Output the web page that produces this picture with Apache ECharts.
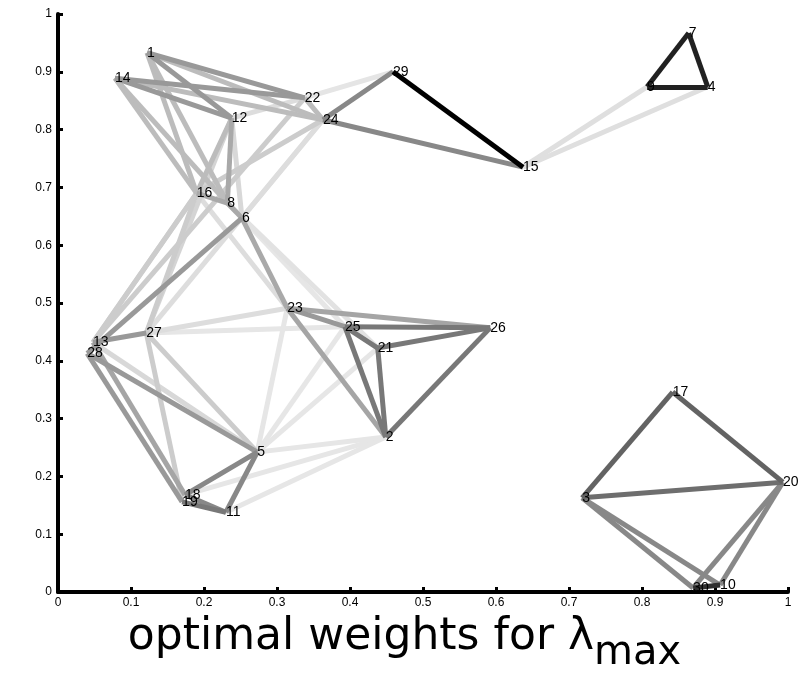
<!DOCTYPE html>
<html>
<head>
<meta charset="utf-8">
<script src="https://cdn.jsdelivr.net/npm/echarts@6/dist/echarts.min.js"></script>
<style>html,body{margin:0;padding:0;background:#fff}#c{width:809px;height:676px}</style>
</head>
<body>
<div id="c"></div>
<script>
// node ids and positions (data coordinates)
var nodeNames = ['1','2','3','4','5','6','7','8','9','10','11','12','13','14','15','16','17','18','19','20','21','22','23','24','25','26','27','28','29','30'];
var nodeX = [0.122,0.449,0.718,0.890,0.273,0.252,0.864,0.232,0.807,0.907,0.230,0.238,0.048,0.078,0.637,0.190,0.842,0.174,0.170,0.993,0.438,0.338,0.314,0.363,0.393,0.592,0.121,0.040,0.459,0.870];
var nodeY = [0.933,0.268,0.163,0.874,0.242,0.647,0.967,0.673,0.874,0.012,0.138,0.820,0.432,0.889,0.735,0.690,0.346,0.168,0.156,0.190,0.422,0.855,0.491,0.817,0.459,0.457,0.448,0.413,0.900,0.007];
// edges: source, target, optimal weight (0 light .. 1 heavy)
var edgeSrc = ['22','6','27','5','5','5','5','18','11','9','4','24','12','16','24','12','8','27','13','16','27','22','24','14','1','14','1','12','22','14','16','12','8','6','28','23','1','14','22','14','1','13','28','13','23','23','19','18','25','25','21','26','25','21','3','3','20','20','24','24','3','3','17','30','7','7','9','29','16','27','28','5','5','27','13'];
var edgeDst = ['29','25','25','23','25','21','2','2','2','15','15','27','22','23','6','6','21','23','16','27','5','13','16','16','16','8','8','16','24','24','8','8','6','23','6','2','24','12','1','22','12','27','5','18','25','26','11','11','26','21','26','2','2','2','30','10','30','10','29','15','20','17','20','10','9','4','4','15','13','19','19','18','11','12','5'];
var edgeW = [0.025,0.02,0.02,0.02,0.02,0.02,0.02,0.02,0.02,0.05,0.05,0.06,0.06,0.06,0.06,0.08,0.04,0.06,0.13,0.13,0.13,0.13,0.13,0.2,0.2,0.2,0.2,0.2,0.2,0.2,0.28,0.28,0.28,0.28,0.35,0.3,0.2,0.35,0.35,0.35,0.35,0.35,0.35,0.3,0.35,0.3,0.49,0.42,0.49,0.49,0.49,0.49,0.49,0.49,0.42,0.42,0.42,0.42,0.42,0.42,0.53,0.58,0.58,0.8,0.86,0.86,0.86,1.0,0.13,0.13,0.35,0.42,0.42,0.1,0.08];
var tickVals = [0,0.1,0.2,0.3,0.4,0.5,0.6,0.7,0.8,0.9,1];

function gray(w){ var g = Math.round(235*(1-w)); return 'rgb('+g+','+g+','+g+')'; }

var order = edgeW.map(function(w,i){return i;}).sort(function(a,b){return edgeW[a]-edgeW[b];});
var links = order.map(function(i){
  return {source: edgeSrc[i], target: edgeDst[i], lineStyle: {color: gray(edgeW[i]), width: 5, opacity: 1}};
});
var nodes = nodeNames.map(function(n,i){ return {name: n, value: [nodeX[i], nodeY[i]]}; });

var chart = echarts.init(document.getElementById('c'), null, {renderer: 'canvas'});
var axisCommon = {
  min: 0, max: 1, interval: 0.1,
  axisLine: {show: true, onZero: false, lineStyle: {color: '#000', width: 4}},
  axisTick: {show: true, inside: true, length: 5, lineStyle: {color: '#000', width: 3}},
  splitLine: {show: false},
  axisLabel: {color: '#000', fontSize: 12, fontFamily: 'Liberation Sans', formatter: function(v){ return String(Math.round(v*10)/10); }}
};
chart.setOption({
  animation: false,
  backgroundColor: '#fff',
  grid: {left: 58, right: 21, top: 14, bottom: 84, containLabel: false},
  xAxis: Object.assign({type: 'value', position: 'bottom'}, axisCommon, {axisLabel: Object.assign({}, axisCommon.axisLabel, {margin: 5})}),
  yAxis: Object.assign({type: 'value', position: 'left'}, axisCommon, {axisLabel: Object.assign({}, axisCommon.axisLabel, {margin: 6})}),
  title: {
    text: '{a|optimal weights for λ}{b|max}',
    left: 'center', top: 619,
    textStyle: {rich: {
      a: {fontSize: 44, fontWeight: 'normal', fontFamily: 'DejaVu Sans', color: '#000', verticalAlign: 'bottom', lineHeight: 50, padding: [0,0,14,0]},
      b: {fontSize: 40, fontWeight: 'normal', fontFamily: 'DejaVu Sans', color: '#000', verticalAlign: 'bottom', lineHeight: 48}
    }}
  },
  series: [{
    type: 'graph',
    coordinateSystem: 'cartesian2d',
    layout: 'none',
    symbol: 'circle',
    symbolSize: 0,
    silent: true,
    data: nodes,
    links: links,
    label: {show: true, position: 'right', distance: 0, color: '#000', fontSize: 14, fontFamily: 'Liberation Sans'},
    edgeSymbol: ['none','none']
  }]
});
</script>
</body>
</html>
